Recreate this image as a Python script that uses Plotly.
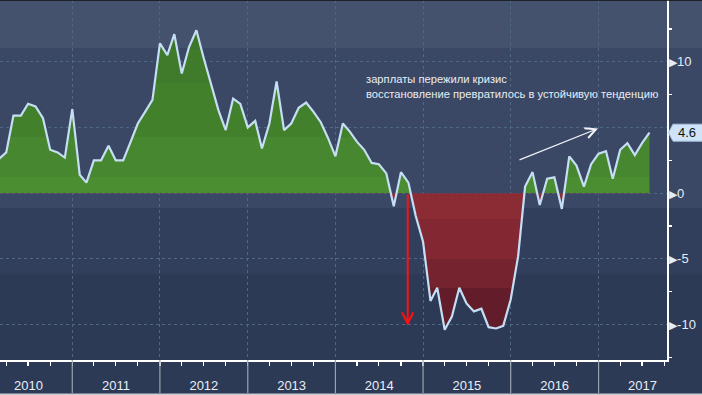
import pandas as pd
import plotly.graph_objects as go

# ---- data (monthly, y/y %, Mar 2010 .. Aug 2017) ----
start_month = "2010-03-01"
v2010 = [2.6, 3.1, 5.9, 5.9, 6.8, 6.6, 5.7, 3.3, 3.1, 2.7]
v2011 = [6.4, 1.4, 0.8, 2.5, 2.5, 3.6, 2.5, 2.5, 3.9, 5.3, 6.2, 7.1]
v2012 = [11.4, 10.5, 12.1, 9.1, 11.1, 12.4, 10.3, 8.3, 6.3, 4.8, 7.2, 6.8]
v2013 = [5.0, 5.5, 3.4, 5.3, 8.5, 4.8, 5.3, 6.5, 6.9, 6.2, 5.4, 4.2]
v2014 = [2.8, 5.3, 4.7, 3.9, 3.3, 2.3, 2.2, 1.5, -1.0, 1.6, 0.8, -1.7]
v2015 = [-3.7, -8.2, -7.2, -10.4, -9.4, -7.2, -8.4, -9.0, -8.8, -10.2, -10.3, -10.1]
v2016 = [-8.1, -4.8, 0.5, 1.6, -0.9, 1.1, 1.2, -1.2, 2.8, 2.1, 0.5, 2.2]
v2017 = [3.0, 3.2, 1.1, 3.3, 3.8, 2.9, 3.8, 4.6]

y_tickvals = [-10, -5, 0, 5, 10]
y_ticklabels = ["-10", "-5", "0", "", "10"]
y_minorvals = [-12.5, -7.5, -2.5, 2.5, 7.5, 12.5]

note_line1 = "зарплаты пережили кризис"
note_line2 = "восстановление превратилось в устойчивую тенденцию"

values = v2010 + v2011 + v2012 + v2013 + v2014 + v2015 + v2016 + v2017
dates = pd.date_range(start_month, periods=len(values), freq="MS")
last_val = values[-1]

# ---- layout geometry / style ----
W, H = 702, 395
ML, MR, MT, MB = 0, 35, 0, 35
PW, PH = W - ML - MR, H - MT - MB
YMIN, YMAX = -12.7, 14.7
FONT = "Liberation Sans"


def px(xpix):
    return xpix / PW


def py(ypix):
    return 1 - ypix / PH


g0, g1 = YMIN, YMAX


def pos(v):
    return (v - g0) / (g1 - g0)


bands = [
    (YMIN, -7.2, "#621c2a"),
    (-7.2, -5.0, "#74232f"),
    (-5.0, -2.0, "#832833"),
    (-2.0, 0.0, "#8b2c35"),
    (0.0, 1.2, "#4b8d31"),
    (1.2, 4.3, "#47872f"),
    (4.3, 8.4, "#43802c"),
    (8.4, 11.0, "#3f7b2a"),
    (11.0, YMAX, "#3c7629"),
]
cscale = []
for lo, hi, c in bands:
    cscale.append([pos(lo), c])
    cscale.append([pos(hi), c])

fig = go.Figure()

fig.add_trace(go.Scatter(
    x=dates, y=values, mode="lines",
    line=dict(color="#c6def4", width=2.2),
    fill="tozeroy",
    fillgradient=dict(type="vertical", colorscale=cscale, start=g0, stop=g1),
    hoverinfo="skip", showlegend=False,
))

bg_bands = [
    (11.05, 20, "#44526e"),
    (-1.15, 11.05, "#3a4866"),
    (-6.2, -1.15, "#313f5c"),
]
shapes = []
for lo, hi, c in bg_bands:
    shapes.append(dict(type="rect", xref="paper", yref="y", x0=-0.01, x1=1.1,
                       y0=lo, y1=hi, fillcolor=c, line_width=0, layer="below"))

for yr in range(2011, 2018):
    shapes.append(dict(type="line", xref="x", yref="paper",
                       x0=f"{yr}-01-01", x1=f"{yr}-01-01", y0=0, y1=-33 / PH,
                       line=dict(color="#9aa3ad", width=1.2), layer="above"))
shapes.append(dict(type="rect", xref="paper", yref="paper", x0=-0.01, x1=1.1,
                   y0=-(H - PH - 1.5) / PH, y1=-(H - PH + 2) / PH,
                   fillcolor="#c9cbce", line_width=0, layer="above"))
shapes.append(dict(type="line", xref="paper", yref="paper", x0=-0.01, x1=1.1,
                   y0=1, y1=1, line=dict(color="#111", width=1.5), layer="above"))

hh = 8.5 / (PH / (YMAX - YMIN))
tip, lx, rx = px(668.5), px(673), px(710)
shapes.append(dict(type="path", xref="paper", yref="y",
                   path=(f"M {tip},{last_val} L {lx},{last_val + hh} L {rx},{last_val + hh} "
                         f"L {rx},{last_val - hh} L {lx},{last_val - hh} Z"),
                   fillcolor="#cfe4f8", line=dict(color="#a9c3dc", width=1), layer="above"))

annotations = [
    dict(xref="paper", yref="y", x=px(676), y=last_val, text=f"{last_val}",
         showarrow=False, xanchor="left", yanchor="middle",
         font=dict(family=FONT, size=13, color="#111")),
    dict(xref="paper", yref="paper", x=px(364), y=py(86.5),
         text=f"{note_line1}<br>{note_line2}", showarrow=False,
         xanchor="left", yanchor="middle", align="left",
         font=dict(family=FONT, size=11.2, color="#e8edf3")),
    dict(xref="paper", yref="paper", x=px(407.7), y=py(326), text="",
         showarrow=True, ax=0, ay=-133, axref="pixel", ayref="pixel",
         arrowhead=5, arrowsize=1.1, arrowwidth=2, arrowcolor="#ff1010"),
    dict(xref="paper", yref="paper", x=px(598), y=py(128.5), text="",
         showarrow=True, ax=-80, ay=32,
         arrowhead=5, arrowsize=1.7, arrowwidth=1.2, arrowcolor="#f2f4f7"),
]

tri = '<span style="font-size:11px">▶</span>'
ticktext = [(tri + t) if t else "" for t in y_ticklabels]

fig.update_layout(
    width=W, height=H,
    margin=dict(l=ML, r=MR, t=MT, b=MB, pad=0, autoexpand=False),
    paper_bgcolor="#2d3a56", plot_bgcolor="rgba(0,0,0,0)",
    shapes=shapes, annotations=annotations, showlegend=False,
    xaxis=dict(
        type="date", range=["2010-03-06", "2017-10-13"], automargin=False,
        tickmode="linear", tick0="2010-01-01", dtick="M12",
        ticklabelmode="period", tickformat="%Y",
        ticks="outside", ticklen=4, tickwidth=1.2, tickcolor="#ffffff",
        showline=True, linecolor="#ffffff", linewidth=1.5,
        showgrid=True, gridcolor="#4f6985", griddash="dot", gridwidth=1,
        minor=dict(tick0="2010-01-01", dtick="M3", ticks="outside", ticklen=4,
                   tickcolor="#ffffff", tickwidth=1.2, showgrid=False),
        tickfont=dict(family=FONT, size=13, color="#e8eef6"),
        ticklabelstandoff=9,
        zeroline=False, fixedrange=True,
    ),
    yaxis=dict(
        side="right", range=[YMIN, YMAX], automargin=False,
        tickmode="array", tickvals=y_tickvals, ticktext=ticktext,
        ticks="", showline=True, linecolor="#ffffff", linewidth=1.5,
        showgrid=True, gridcolor="#4f6985", griddash="dot", gridwidth=1,
        zeroline=False,
        minor=dict(tickmode="array", tickvals=y_minorvals, ticks="outside",
                   ticklen=3, tickcolor="#ffffff", tickwidth=1.2, showgrid=False),
        tickfont=dict(family=FONT, size=13, color="#e2edf8"),
        ticklabelstandoff=-2,
        fixedrange=True,
    ),
)

fig.write_html(
    "out.html",
    config={"displayModeBar": False, "staticPlot": True},
    post_script="document.body.style.margin='0';document.body.style.overflow='hidden';",
)
